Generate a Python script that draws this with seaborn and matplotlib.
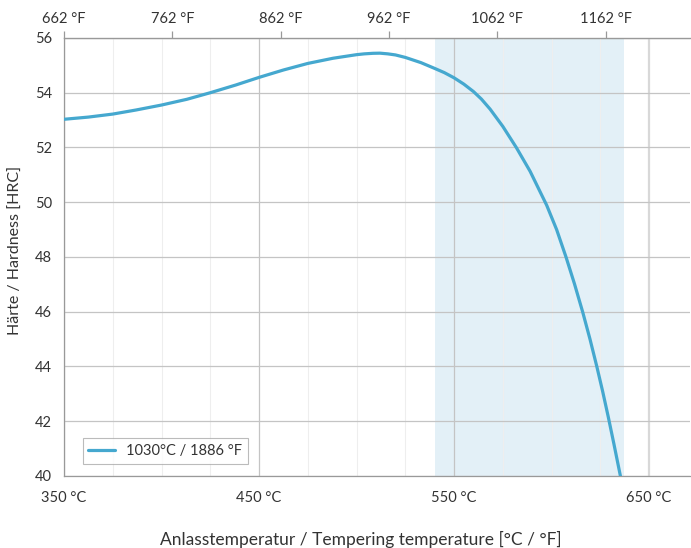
import numpy as np
import pandas as pd
import matplotlib
matplotlib.use('Agg')
import matplotlib.pyplot as plt
import seaborn as sns

# tempering curve
temps = [350, 362.5, 375, 387, 400, 413, 425, 438, 450, 462.5, 475, 488, 500, 504, 508.5, 512, 516, 520, 525, 533, 540,
         545, 550, 555, 560, 564, 568.5, 575, 582, 589, 597.5, 602.6, 607.4, 611.7, 616, 619.7, 623.2, 626.2, 629.1, 632, 635.3]
hrc = [53.03, 53.11, 53.22, 53.37, 53.55, 53.76, 54.0, 54.28, 54.56, 54.83, 55.07, 55.26, 55.39, 55.42, 55.44, 55.445, 55.42, 55.38, 55.29, 55.1, 54.89,
       54.735, 54.545, 54.315, 54.04, 53.77, 53.4, 52.77, 51.99, 51.13, 49.89, 49.0, 48.0, 47.03, 45.98, 45.0, 44.0, 43.09, 42.15, 41.16, 40.0]
series_label = '1030°C / 1886 °F'

x_ticks = [350, 450, 550, 650]
x_tick_labels = ['350 °C', '450 °C', '550 °C', '650 °C']
f_ticks = [662, 762, 862, 962, 1062, 1162]
y_ticks = [40, 42, 44, 46, 48, 50, 52, 54, 56]
span = (540, 637)

sns.set_style('white')
plt.rcParams['font.family'] = ['Lato', 'DejaVu Sans']
text_col = '#333333'
grid_col = '#c4c4c4'

df = pd.DataFrame({'temp': temps, 'hrc': hrc})

fig = plt.figure(figsize=(6.91, 5.48), dpi=100)
ax = fig.add_axes([0.0926, 0.1314, 0.906, 0.7993])

ax.axvspan(span[0], span[1], color='#e3f0f7', zorder=0, lw=0)

# grid
for x in range(375, 671, 25):
    if x not in x_ticks:
        ax.axvline(x, color='#eeeeee', lw=0.8, zorder=0.5)
for x in x_ticks:
    ax.axvline(x, color='#d8d8d8' if x == 650 else grid_col, lw=1.6 if x == 650 else 0.9, zorder=0.5)
for y in y_ticks:
    ax.axhline(y, color=grid_col, lw=0.9, zorder=0.5)

sns.lineplot(data=df, x='temp', y='hrc', ax=ax, color='#45a8cf', lw=2.3,
             label=series_label, zorder=3)

ax.set_xlim(350, 671)
ax.set_ylim(40, 56)
ax.set_xticks(x_ticks)
ax.set_xticklabels(x_tick_labels)
ax.set_yticks(y_ticks)
ax.tick_params(axis='both', colors='#999999', labelcolor=text_col, labelsize=10.5,
               length=5, width=0.9, direction='out')
ax.tick_params(axis='x', pad=6)

for s in ['left', 'bottom', 'top']:
    ax.spines[s].set_color('#999999')
    ax.spines[s].set_linewidth(0.9)
ax.spines['right'].set_visible(False)

ax.set_xlabel('Anlasstemperatur / Tempering temperature [°C / °F]', color=text_col,
              fontsize=12.5, labelpad=16)
ax.xaxis.set_label_coords(0.474, -0.125)
ax.set_ylabel('Härte / Hardness [HRC]', color=text_col, fontsize=11.5, labelpad=7)
ax.yaxis.set_label_coords(-0.066, 0.516)

sec = ax.secondary_xaxis('top', functions=(lambda c: c * 9 / 5 + 32, lambda f: (f - 32) * 5 / 9))
sec.set_xticks(f_ticks)
sec.set_xticklabels([f'{f} °F' for f in f_ticks])
sec.tick_params(colors='#999999', labelcolor=text_col, labelsize=10.5, length=5, width=0.9)
sec.spines['top'].set_color('#999999')

leg = ax.legend(loc='lower left', bbox_to_anchor=(0.018, 0.011), frameon=True, fancybox=False,
                fontsize=10.5, handlelength=1.8, borderpad=0.4, labelcolor=text_col)
leg.get_frame().set_edgecolor('#aaaaaa')
leg.get_frame().set_linewidth(0.8)

fig.savefig('out.png', dpi=100)
